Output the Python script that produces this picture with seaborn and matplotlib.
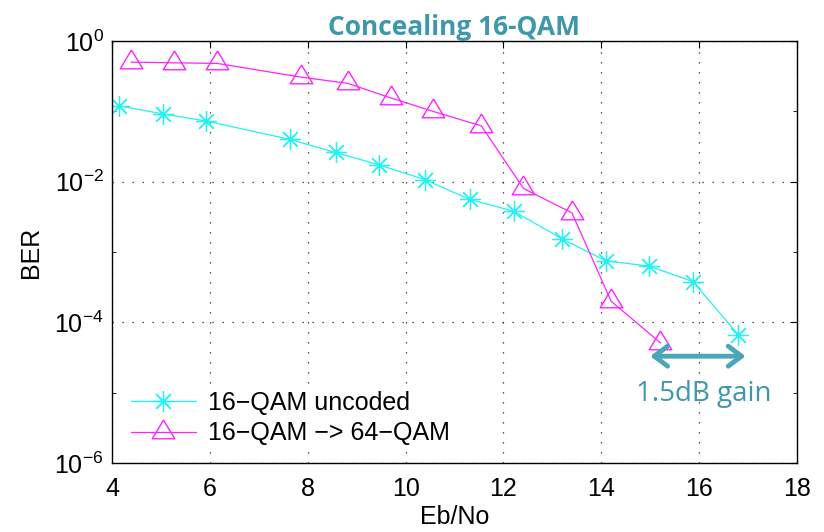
import numpy as np
import pandas as pd
import matplotlib
matplotlib.use("Agg")
import matplotlib.pyplot as plt
import matplotlib.ticker as mticker
import seaborn as sns

# ---- data ----
ebno_uncoded = [4.14, 5.04, 5.92, 7.63, 8.57, 9.45, 10.39, 11.31, 12.21, 13.19, 14.09, 14.98, 15.87, 16.80]
ber_uncoded = [0.12, 0.092, 0.073, 0.040, 0.026, 0.0174, 0.0107, 0.0056, 0.0038, 0.00155, 7.5e-4, 6.3e-4, 3.8e-4, 6.7e-5]
ebno_conceal = [4.39, 5.27, 6.15, 7.87, 8.82, 9.71, 10.56, 11.55, 12.41, 13.40, 14.20, 15.21]
ber_conceal = [0.50, 0.49, 0.48, 0.306, 0.25, 0.154, 0.10, 0.062, 0.0080, 0.0036, 2.0e-4, 5.1e-5]
series_names = ["16\u2212QAM uncoded", "16\u2212QAM \u2212> 64\u2212QAM"]
title_text = "Concealing 16-QAM"
gain_text = "1.5dB gain"
gain_from, gain_to, gain_level = 15.0, 16.95, 3.3e-5

sns.set_theme(style="white")
plt.rcParams["font.family"] = ["Liberation Sans", "DejaVu Sans"]
plt.rcParams["xtick.direction"] = "in"
plt.rcParams["ytick.direction"] = "in"
plt.rcParams["text.color"] = "black"
plt.rcParams["axes.labelcolor"] = "black"
plt.rcParams["xtick.color"] = "black"
plt.rcParams["ytick.color"] = "black"

fig = plt.figure(figsize=(8.24, 5.32), dpi=100)
ax = fig.add_axes([112 / 824, 1 - 463 / 532, (797 - 112) / 824, (463 - 41) / 532])

df1 = pd.DataFrame({"x": ebno_uncoded, "y": ber_uncoded})
df2 = pd.DataFrame({"x": ebno_conceal, "y": ber_conceal})

tri = [(0, 1.33), (-1.2, -0.67), (1.2, -0.67), (0, 1.33)]

sns.lineplot(data=df1, x="x", y="y", ax=ax, color="#22f2f2", lw=0.9,
             marker=(8, 2, 0), markersize=15, markeredgewidth=0.9,
             markeredgecolor="#22f2f2", label=series_names[0], sort=False)
sns.lineplot(data=df2, x="x", y="y", ax=ax, color="#ff22ff", lw=0.9,
             marker=tri, markersize=18, markeredgewidth=1.0,
             markerfacecolor="none", markeredgecolor="#ff22ff",
             label=series_names[1], sort=False)

ax.set_yscale("log")
ax.set_xlim(4, 18)
ax.set_ylim(1e-6, 1)
ax.set_xticks(np.arange(4, 19, 2))
ax.yaxis.set_major_locator(mticker.FixedLocator([1e-6, 1e-4, 1e-2, 1]))
ax.yaxis.set_minor_locator(mticker.FixedLocator([1e-5, 1e-3, 1e-1]))
ax.yaxis.set_major_formatter(mticker.LogFormatterSciNotation())
ax.yaxis.set_minor_formatter(mticker.NullFormatter())
ax.tick_params(axis="x", which="major", labelsize=18, length=5, width=0.8,
               top=True, pad=10, color="black", labelcolor="black")
ax.tick_params(axis="y", which="major", labelsize=18, length=5, width=0.8,
               right=True, pad=6, color="black", labelcolor="black")
ax.tick_params(axis="y", which="minor", length=3, width=0.6, right=True, left=True)
ax.grid(True, which="major", color="#222222", linestyle=(0, (1, 7)), linewidth=0.9)

for s in ax.spines.values():
    s.set_color("black")
    s.set_linewidth(1.0)

ax.set_xlabel("Eb/No", fontsize=18, labelpad=3, color="black")
ax.set_ylabel("BER", fontsize=18, labelpad=8, color="black")
ax.set_title(title_text, fontsize=19, fontweight="bold", color="#3e98ab",
             family=["Open Sans", "DejaVu Sans"], pad=4)

ax.annotate("", xy=(gain_from, gain_level), xytext=(gain_to, gain_level),
            arrowprops=dict(arrowstyle="<->,head_length=0.8,head_width=0.6",
                            color="#4aa6b8", lw=3.5, shrinkA=0, shrinkB=0))
ax.text(16.1, 0.95e-5, gain_text, ha="center", va="center",
        fontsize=20, color="#3e98ab", family=["Open Sans", "DejaVu Sans"])

leg = ax.legend(loc="lower left", bbox_to_anchor=(0.02, 0.03), fontsize=18,
                frameon=True, handlelength=2.6, handletextpad=0.5,
                labelspacing=0.25, borderpad=0.2, borderaxespad=0.0)
leg.get_frame().set_facecolor("white")
leg.get_frame().set_edgecolor("none")
leg.get_frame().set_alpha(1.0)
for t in leg.get_texts():
    t.set_color("black")

fig.savefig("out.png", dpi=100)
